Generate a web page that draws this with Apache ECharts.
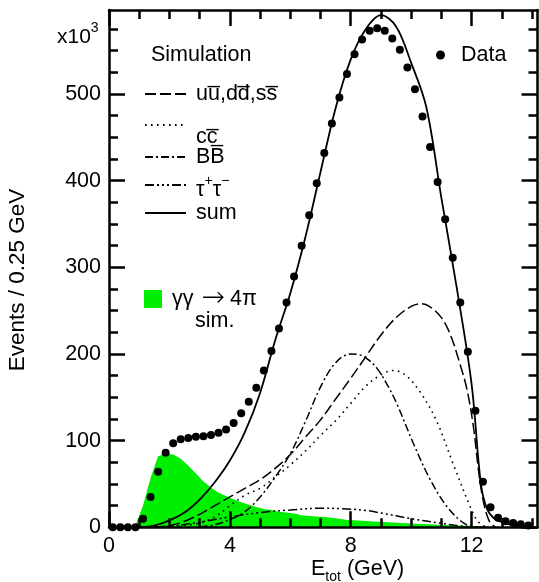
<!DOCTYPE html>
<html><head><meta charset="utf-8">
<script src="https://cdn.jsdelivr.net/npm/echarts@6/dist/echarts.min.js"></script>
<style>html,body{margin:0;padding:0;background:#fff}#c{width:539px;height:582px}</style>
</head><body><div id="c"></div>
<script>
// ---- data ----
const binCenters = [0.125,0.375,0.625,0.875,1.125,1.375,1.625,1.875,2.125,2.375,2.625,2.875,3.125,3.375,3.625,3.875,
  4.125,4.375,4.625,4.875,5.125,5.375,5.625,5.875,6.125,6.375,6.625,6.875,7.125,7.375,7.625,7.875,
  8.125,8.375,8.625,8.875,9.125,9.375,9.625,9.875,10.125,10.375,10.625,10.875,11.125,11.375,11.625,11.875,
  12.125,12.375,12.625,12.875,13.125,13.375,13.625,13.875];
const dataEvents = [0,0,0,0,10,35,64,86,97,101.5,103,104.5,105,106.5,109,113,
  120.5,131.5,145,161,181,203.5,229.5,259.5,289.5,325,360,397,432,466,496,523,
  546,563,573,576,573,564,551,530.5,505.5,474,439,398.6,355.6,311,259.5,202.5,
  134.5,52.6,23,11,7,5,3.5,2];
const gg4piSim = [0,0,0,2,25,57,82,85,84,79,71,62,53,46,40,36,
  32.5,29,26,23.5,21,20,18,17,16,14,13,12.5,12,11,10,8.5,
  8,7.5,7,6.5,6,5.5,5,4.6,4.2,3.8,3.4,3,2.6,2.3,2,1.7,
  1.5,1,0.5,0,0,0,0,0];
const sumCurve = [[1.0,0],[1.5,2],[2.0,8],[2.5,17],[3.0,32],[3.5,52],[4.0,77],[4.5,110],[5.0,155],[5.5,216],
  [6.0,270],[6.5,335],[7.0,410],[7.5,484],[8.0,540],[8.5,575],[9.0,591],[9.5,578],[10.0,536],[10.5,485],
  [11.0,380],[11.5,278],[12.0,165],[12.3,52],[12.5,22],[12.75,10],[13.0,6],[13.5,1.5],[14.0,0.5]];
const udsCurve = [[1.5,0],[2.0,2],[2.5,7],[3.0,15],[3.5,25],[4.0,35],[4.5,45],[5.0,55],[5.5,68],[6.0,84],
  [6.5,104],[7.0,124],[7.5,148],[8.0,172],[8.5,197],[9.0,222],[9.5,242],[10.0,255],[10.3,258],[10.6,255],
  [11.0,242],[11.3,222],[11.6,190],[11.84,160],[12.06,116],[12.23,65],[12.4,28],[12.6,6],[12.8,0]];
const ccCurve = [[1.5,0],[2.0,1],[2.5,2],[3.0,5],[3.5,12],[4.0,25],[4.5,37],[5.0,45],[5.5,58],[6.0,72],
  [6.5,88],[7.0,106],[7.5,123],[8.0,143],[8.5,163],[9.0,176],[9.4,181],[9.8,176],[10.3,156],[10.85,122],
  [11.4,72],[11.95,24],[12.2,7],[12.5,0]];
const bbCurve = [[3.0,0.5],[3.5,3],[4.0,9],[4.5,18],[5.0,35],[5.5,58],[6.0,85],[6.5,122],[7.0,162],[7.5,190],
  [8.0,200],[8.3,199],[8.6,193],[8.9,182],[9.2,165],[9.52,143],[10.07,97],[10.63,55],[11.18,24],[11.73,5],[12.1,0]];
const tauCurve = [[1.5,0],[2.0,1],[3.0,6],[4.0,12],[5.0,17],[6.0,20],[7.0,22],[7.7,21.5],[8.5,19.5],[9.0,16.5],
  [10.0,10],[11.0,4.5],[11.5,2],[12.0,0.5],[12.5,0]];
const xMajorTicks = [0,4,8,12];
const xMinorTicks = [1,2,3,5,6,7,9,10,11,13,14];
const yMajorTicks = [0,100,200,300,400,500];
const yMinorTicks = [25,50,75,125,150,175,225,250,275,325,350,375,425,450,475,525,550,575];
const names = {uds:'uu\u0305,dd\u0305,ss\u0305', cc:'cc\u0305', bb:'BB\u0305', tau:'tautau', sum:'sum', gg:'gg4pi', data:'Data'};

// ---- chart ----
const FONT = "'Liberation Sans', Arial, Helvetica, sans-serif";
const GREEN = '#00ee00';
const X_MAX = 14.18, Y_MAX = 597;
const chart = echarts.init(document.getElementById('c'));

function axis(kind, pos, ticks, len, showLine, showLabels) {
  return {
    type:'value', position:pos, z:10,
    min:0, max: kind==='x' ? X_MAX : Y_MAX,
    axisLine:{show:showLine, onZero:false, lineStyle:{color:'#000', width:2.5}},
    axisTick:{show:true, inside:true, length:len, customValues:ticks, lineStyle:{color:'#000', width:2.5}},
    axisLabel:{show:showLabels, customValues:ticks, margin:8, fontSize:21.5, color:'#000', fontFamily:FONT},
    splitLine:{show:false}, minorTick:{show:false}
  };
}
const pairs = (xs, ys) => xs.map((x,i)=>[x, ys[i]]);
const lineSeries = (name, data, dash, w) => ({
  name, type:'line', data, symbol:'none', smooth:0.35, z:3, silent:true,
  lineStyle:{color:'#000', width:w, type:dash}, itemStyle:{color:'#000'}
});
const legText = {fontSize:21.5, lineHeight:22, color:'#000', fontFamily:FONT, fontWeight:'normal'};
const sup = {fontSize:14, lineHeight:14, color:'#000', fontFamily:FONT, verticalAlign:'top', fontWeight:'normal'};
const legBase = {orient:'vertical', padding:0, itemWidth:41, itemHeight:14, selectedMode:false,
  itemStyle:{opacity:0, borderWidth:0},
  textStyle:Object.assign({}, legText, {rich:{
    p:Object.assign({}, legText, {padding:[0,0,0,5]}),
    q:Object.assign({}, legText, {padding:[24,0,0,5]}),
    t:Object.assign({}, legText, {verticalAlign:'top', padding:[5,0,0,0]}),
    t0:Object.assign({}, legText, {verticalAlign:'top', padding:[5,0,0,5]}),
    s:sup
  }})};
const leg = (o) => Object.assign({}, legBase, o);

chart.setOption({
  animation:false,
  backgroundColor:'#fff',
  textStyle:{fontFamily:FONT},
  grid:{left:109, right:1.5, top:10, bottom:54.7, containLabel:false},
  xAxis:[
    axis('x','bottom',xMajorTicks,16,true,true),
    axis('x','bottom',xMinorTicks,9,false,false),
    axis('x','top',xMajorTicks,16,true,false),
    axis('x','top',xMinorTicks,9,false,false)
  ],
  yAxis:[
    axis('y','left',yMajorTicks,16,true,true),
    axis('y','left',yMinorTicks,9,false,false),
    axis('y','right',yMajorTicks,16,true,false),
    axis('y','right',yMinorTicks,9,false,false)
  ],
  title:[
    {text:'Simulation', left:151, top:44.5, padding:0, textStyle:legText},
    {text:'sim.', left:195, top:310, padding:0, textStyle:legText},
    {text:'{a|x10}{b|3}', left:57, top:21, padding:0, textStyle:{rich:{
      a:Object.assign({}, legText, {fontSize:21, verticalAlign:'top', padding:[6,0,0,0]}),
      b:sup}}},
    {text:'{e|E}{s|tot}{e| (GeV)}', left:311, top:558, padding:0, textStyle:{rich:{
      e:Object.assign({}, legText, {verticalAlign:'top'}),
      s:Object.assign({}, sup, {padding:[12,0,0,0]})}}}
  ],
  graphic:[{type:'text', x:18, y:280, rotation:Math.PI/2, z:20,
    style:{text:'Events / 0.25 GeV', font:'22.5px '+FONT, fill:'#000', align:'center', verticalAlign:'middle'}}],
  legend:[
    leg({data:[names.uds], left:144, top:83, formatter:n=>'{p|'+n+'}'}),
    leg({data:[names.cc], left:144, top:102, formatter:n=>'{q|'+n+'}'}),
    leg({data:[names.bb], left:144, top:146, formatter:n=>'{p|'+n+'}'}),
    leg({data:[names.tau], left:144, top:174, formatter:()=>'{t0|τ}{s|+}{t|τ}{s|−}'}),
    leg({data:[names.sum], left:144, top:202, formatter:n=>'{p|'+n+'}'}),
    leg({data:[names.gg], left:144, top:285, icon:'rect', itemWidth:18, itemHeight:18, itemStyle:{opacity:1},
      textStyle:Object.assign({}, legText, {rich:{
        g:Object.assign({}, legText, {padding:[0,0,0,5]}),
        a:{fontSize:28, lineHeight:22, color:'#000', fontFamily:"'DejaVu Sans'", fontWeight:200, padding:[0,5,0,8]},
        h:legText}}),
      formatter:()=>'{g|γγ}{a|→}{h|4π}'}),
    leg({data:[names.data], left:436, top:44, icon:'circle', itemWidth:9, itemHeight:9, itemStyle:{opacity:1},
      textStyle:Object.assign({}, legText, {rich:{d:Object.assign({}, legText, {padding:[0,0,0,11]})}}),
      formatter:n=>'{d|'+n+'}'})
  ],
  series:[
    {name:names.gg, type:'line', data:pairs(binCenters, gg4piSim), symbol:'none', silent:true, z:1,
      lineStyle:{width:0}, itemStyle:{color:GREEN}, areaStyle:{color:GREEN, opacity:1}},
    lineSeries(names.uds, udsCurve, [11,4], 1.5),
    lineSeries(names.cc, ccCurve, [1.6,4.4], 1.6),
    lineSeries(names.bb, bbCurve, [8,3,2,3], 1.5),
    lineSeries(names.tau, tauCurve, [9,3,2,3,2,3,2,3], 1.5),
    lineSeries(names.sum, sumCurve, 'solid', 1.8),
    {name:names.data, type:'scatter', data:pairs(binCenters, dataEvents), symbol:'circle', symbolSize:8, z:5,
      silent:true, itemStyle:{color:'#000', opacity:1}}
  ]
});
</script></body></html>
